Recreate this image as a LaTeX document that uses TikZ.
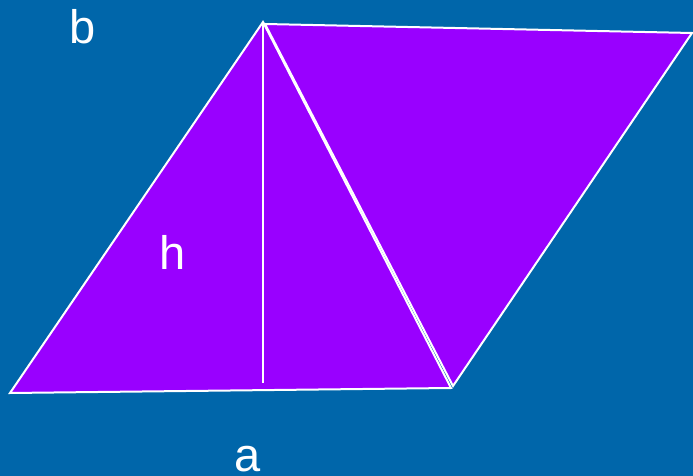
\documentclass[tikz,border=0pt]{standalone}
\usepackage{fontspec}
\setmainfont{Liberation Sans}
\definecolor{bgblue}{HTML}{0066AA}
\definecolor{violet}{HTML}{9900FF}
\begin{document}
\begin{tikzpicture}[x=1pt,y=1pt,
  tri/.style={fill=violet,draw=white,line width=2pt,line join=miter},
  lbl/.style={text=white,font=\fontsize{47}{56}\selectfont,anchor=base,inner sep=0pt}]
\fill[bgblue] (0,0) rectangle (693,476);
\useasboundingbox (0,0) rectangle (693,476);
\coordinate (A) at (10,83);
\coordinate (B) at (263,454);
\coordinate (C) at (451,88);
\coordinate (B2) at (265,452);
\coordinate (D) at (692,443);
\coordinate (C2) at (453,90);
\coordinate (F) at (263,93);
\filldraw[tri] (A) -- (B) -- (C) -- cycle;
\filldraw[tri] (B2) -- (D) -- (C2) -- cycle;
\draw[white,line width=2pt] (B) -- (F);
\node[lbl] (lb) at (83,432) {b};
\node[lbl] (lh) at (173,206) {h};
\node[lbl] (la) at (248,4) {a};
\end{tikzpicture}
\end{document}
